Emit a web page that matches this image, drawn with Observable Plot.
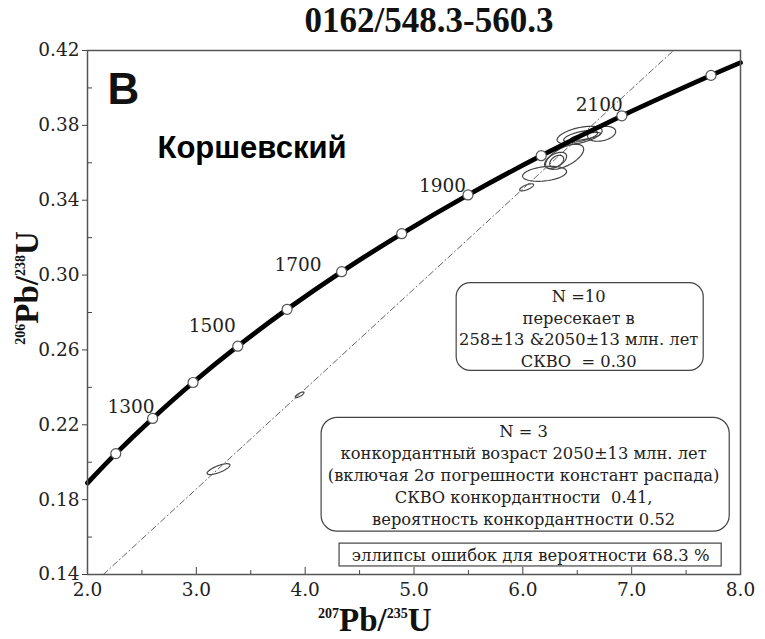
<!DOCTYPE html>
<html><head><meta charset="utf-8">
<script src="https://cdn.jsdelivr.net/npm/d3@7"></script>
<script src="https://cdn.jsdelivr.net/npm/@observablehq/plot@0.6"></script>
<style>
html,body{margin:0;padding:0;background:#fff}
</style>
</head><body><div id="chart"></div>
<script>
// Concordia age markers (Ma)
const markerAges = [1200, 1300, 1400, 1500, 1600, 1700, 1800, 1900, 2000, 2100, 2200];
const markerX = [2.260, 2.598, 2.970, 3.381, 3.834, 4.335, 4.887, 5.496, 6.169, 6.910, 7.729];
const markerY = [0.2046, 0.2234, 0.2426, 0.2620, 0.2817, 0.3018, 0.3221, 0.3428, 0.3638, 0.3851, 0.4067];
// Concordia curve (including where it meets the frame)
const curveX = [2.0, 2.260, 2.598, 2.970, 3.381, 3.834, 4.335, 4.887, 5.496, 6.169, 6.910, 7.729, 8.0];
const curveY = [0.1889, 0.2046, 0.2234, 0.2426, 0.2620, 0.2817, 0.3018, 0.3221, 0.3428, 0.3638, 0.3851, 0.4067, 0.4135];
const labeledAges = [1300, 1500, 1700, 1900, 2100];
// Discordia (258 & 2050 Ma intercepts)
const discordX = [2.145, 7.384];
const discordY = [0.14, 0.42];
// Error ellipses: centre, half-extent in x and y, correlation
const ellX   = [6.522, 6.724, 6.531, 6.577, 6.384, 6.301, 6.311, 6.200, 6.035, 3.204, 3.949];
const ellY   = [0.3747, 0.3755, 0.3741, 0.3741, 0.3632, 0.3613, 0.3608, 0.3541, 0.3469, 0.1963, 0.2360];
const ellSX  = [0.207, 0.129, 0.156, 0.138, 0.175, 0.101, 0.064, 0.202, 0.064, 0.105, 0.040];
const ellSY  = [0.0048, 0.0040, 0.0032, 0.0021, 0.0067, 0.0043, 0.0032, 0.0040, 0.0019, 0.0029, 0.0015];
const ellRho = [0.5, 0.3, 0.6, 0.7, 0.6, 0.5, 0.4, 0.3, 0.7, 0.75, 0.8];
// Axis ticks
const xMajor = [2, 3, 4, 5, 6, 7, 8];
const xMinor = [2.5, 3.5, 4.5, 5.5, 6.5, 7.5];
const yMajor = [0.14, 0.18, 0.22, 0.26, 0.30, 0.34, 0.38, 0.42];
const yMinor = [0.16, 0.20, 0.24, 0.28, 0.32, 0.36, 0.40];
// Texts
const titleText = "0162/548.3-560.3";
const panelLetter = "B";
const placeName = "Коршевский";
const box1Lines = ["N =10", "пересекает в", "258±13 &2050±13 млн. лет", "СКВО  = 0.30"];
const box2Lines = ["N = 3", "конкордантный возраст 2050±13 млн. лет", "(включая 2σ погрешности констант распада)", "СКВО конкордантности  0.41,", "вероятность конкордантности 0.52"];
const box3Text = "эллипсы ошибок для вероятности 68.3 %";

const curve = curveX.map((x, i) => ({x, y: curveY[i]}));
const markers = markerAges.map((a, i) => ({age: a, x: markerX[i], y: markerY[i]}));
const discord = discordX.map((x, i) => ({x, y: discordY[i]}));
const ellPts = [];
ellX.forEach((cx, i) => {
  const r = ellRho[i], s = Math.sqrt(1 - r * r);
  d3.range(0, 73).forEach(k => {
    const t = k / 72 * 2 * Math.PI;
    ellPts.push({id: i, x: cx + ellSX[i] * Math.cos(t), y: ellY[i] + ellSY[i] * (r * Math.cos(t) + s * Math.sin(t))});
  });
});

const serifBold = "Liberation Serif";
const serif = "DejaVu Serif";
const sans = "Liberation Sans";
const labelOffsets = {1300: [2, -5], 1500: [-2, -14], 1700: [-20, -1], 1900: [-2, -3], 2100: [1, -5]};

const plot = Plot.plot({
  width: 765, height: 639,
  marginLeft: 87, marginRight: 25, marginTop: 50, marginBottom: 65,
  x: {domain: [2, 8]},
  y: {domain: [0.14, 0.42]},
  style: {background: "#fff"},
  marks: [
    Plot.axisX(xMajor, {tickSize: -7, tickFormat: () => "", stroke: "#444", label: null}),
    Plot.axisX(xMinor, {tickSize: -4, tickFormat: () => "", stroke: "#444", label: null}),
    Plot.axisX(xMajor, {tickSize: 0, tickPadding: 8, tickFormat: d3.format(".1f"), fontSize: 18.5, fill: "#222", label: null}),
    Plot.axisY(yMajor, {tickSize: 5, tickPadding: 3, tickFormat: d3.format(".2f"), fontSize: 18.5, fill: "#222", stroke: "#444", label: null}),
    Plot.axisY(yMinor, {tickSize: -5, tickFormat: () => "", stroke: "#444", label: null}),
    Plot.line(ellPts, {x: "x", y: "y", z: "id", curve: "linear-closed", stroke: "#444", strokeWidth: 1.2}),
    Plot.line(discord, {x: "x", y: "y", stroke: "#666", strokeWidth: 1, strokeDasharray: "6,3,1,3"}),
    Plot.line(curve, {x: "x", y: "y", curve: "catmull-rom", stroke: "#000", strokeWidth: 4.8}),
    Plot.dot(markers, {x: "x", y: "y", r: 5, fill: "#fff", stroke: "#555", strokeWidth: 1.2}),
    ...labeledAges.map(a => {
      const m = markers.find(d => d.age === a);
      return Plot.text([m], {x: "x", y: "y", text: d => String(d.age), textAnchor: "end", lineAnchor: "bottom",
        dx: labelOffsets[a][0], dy: labelOffsets[a][1], fontSize: 18.5, fill: "#222"});
    }),
    Plot.text([panelLetter], {x: 2.184, y: 0.3912, text: d => d, textAnchor: "start", lineAnchor: "bottom",
      fontWeight: "bold", fontSize: 44, fill: "#111"}),
    Plot.text([placeName], {x: 2.643, y: 0.3624, text: d => d, textAnchor: "start", lineAnchor: "bottom",
      fontWeight: "bold", fontSize: 31, fill: "#000"}),
    Plot.rect([0], {x1: 5.392, x2: 7.662, y1: 0.2488, y2: 0.2957, rx: 14, fill: "#fff", stroke: "#444", strokeWidth: 1.2}),
    Plot.text([box1Lines.join("\n")], {x: 6.513, y: 0.2720, text: d => d, lineHeight: 1.33, fontSize: 16.3, fill: "#222"}),
    Plot.rect([0], {x1: 4.151, x2: 7.901, y1: 0.1629, y2: 0.2237, rx: 16, fill: "#fff", stroke: "#444", strokeWidth: 1.2}),
    Plot.text([box2Lines.join("\n")], {x: 6.007, y: 0.1939, text: d => d, lineHeight: 1.35, fontSize: 16.3, fill: "#222"}),
    Plot.rect([0], {x1: 4.316, x2: 7.827, y1: 0.1443, y2: 0.1565, fill: "#fff", stroke: "#444", strokeWidth: 1.2}),
    Plot.text([box3Text], {x: 6.072, y: 0.1501, text: d => d, fontSize: 16.4, fill: "#222"}),
    Plot.frame({stroke: "#555", strokeWidth: 1.5})
  ]
});
document.getElementById("chart").appendChild(plot);

const svg = d3.select(plot);
// fonts (inline styles): serif everywhere, sans for the panel letter and place name
svg.selectAll("text").style("font-family", serif);
svg.selectAll("text").filter(function() {
  const t = this.textContent;
  return t === panelLetter || t === placeName;
}).style("font-family", sans);

// Title and axis labels with superscripts (bold serif)
svg.append("text").attr("x", 429).attr("y", 32).attr("text-anchor", "middle")
  .style("font-family", serifBold).attr("font-weight", "bold").attr("font-size", 35).attr("fill", "#111")
  .text(titleText);
function supLabel(sel, parts) {
  parts.forEach(([t, sup]) => {
    sel.append("tspan").attr("font-size", sup ? 14 : 33).attr("dy", sup ? -13 : 13).text(t);
  });
}
const xl = svg.append("text").attr("x", 318).attr("y", 631).attr("text-anchor", "start")
  .style("font-family", serifBold).attr("font-weight", "bold").attr("fill", "#111");
supLabel(xl, [["207", true], ["Pb/", false], ["235", true], ["U", false]]);
const yl = svg.append("text").attr("transform", "translate(38,288) rotate(-90)").attr("text-anchor", "middle")
  .style("font-family", serifBold).attr("font-weight", "bold").attr("fill", "#111");
supLabel(yl, [["206", true], ["Pb/", false], ["238", true], ["U", false]]);
</script>
</body></html>
